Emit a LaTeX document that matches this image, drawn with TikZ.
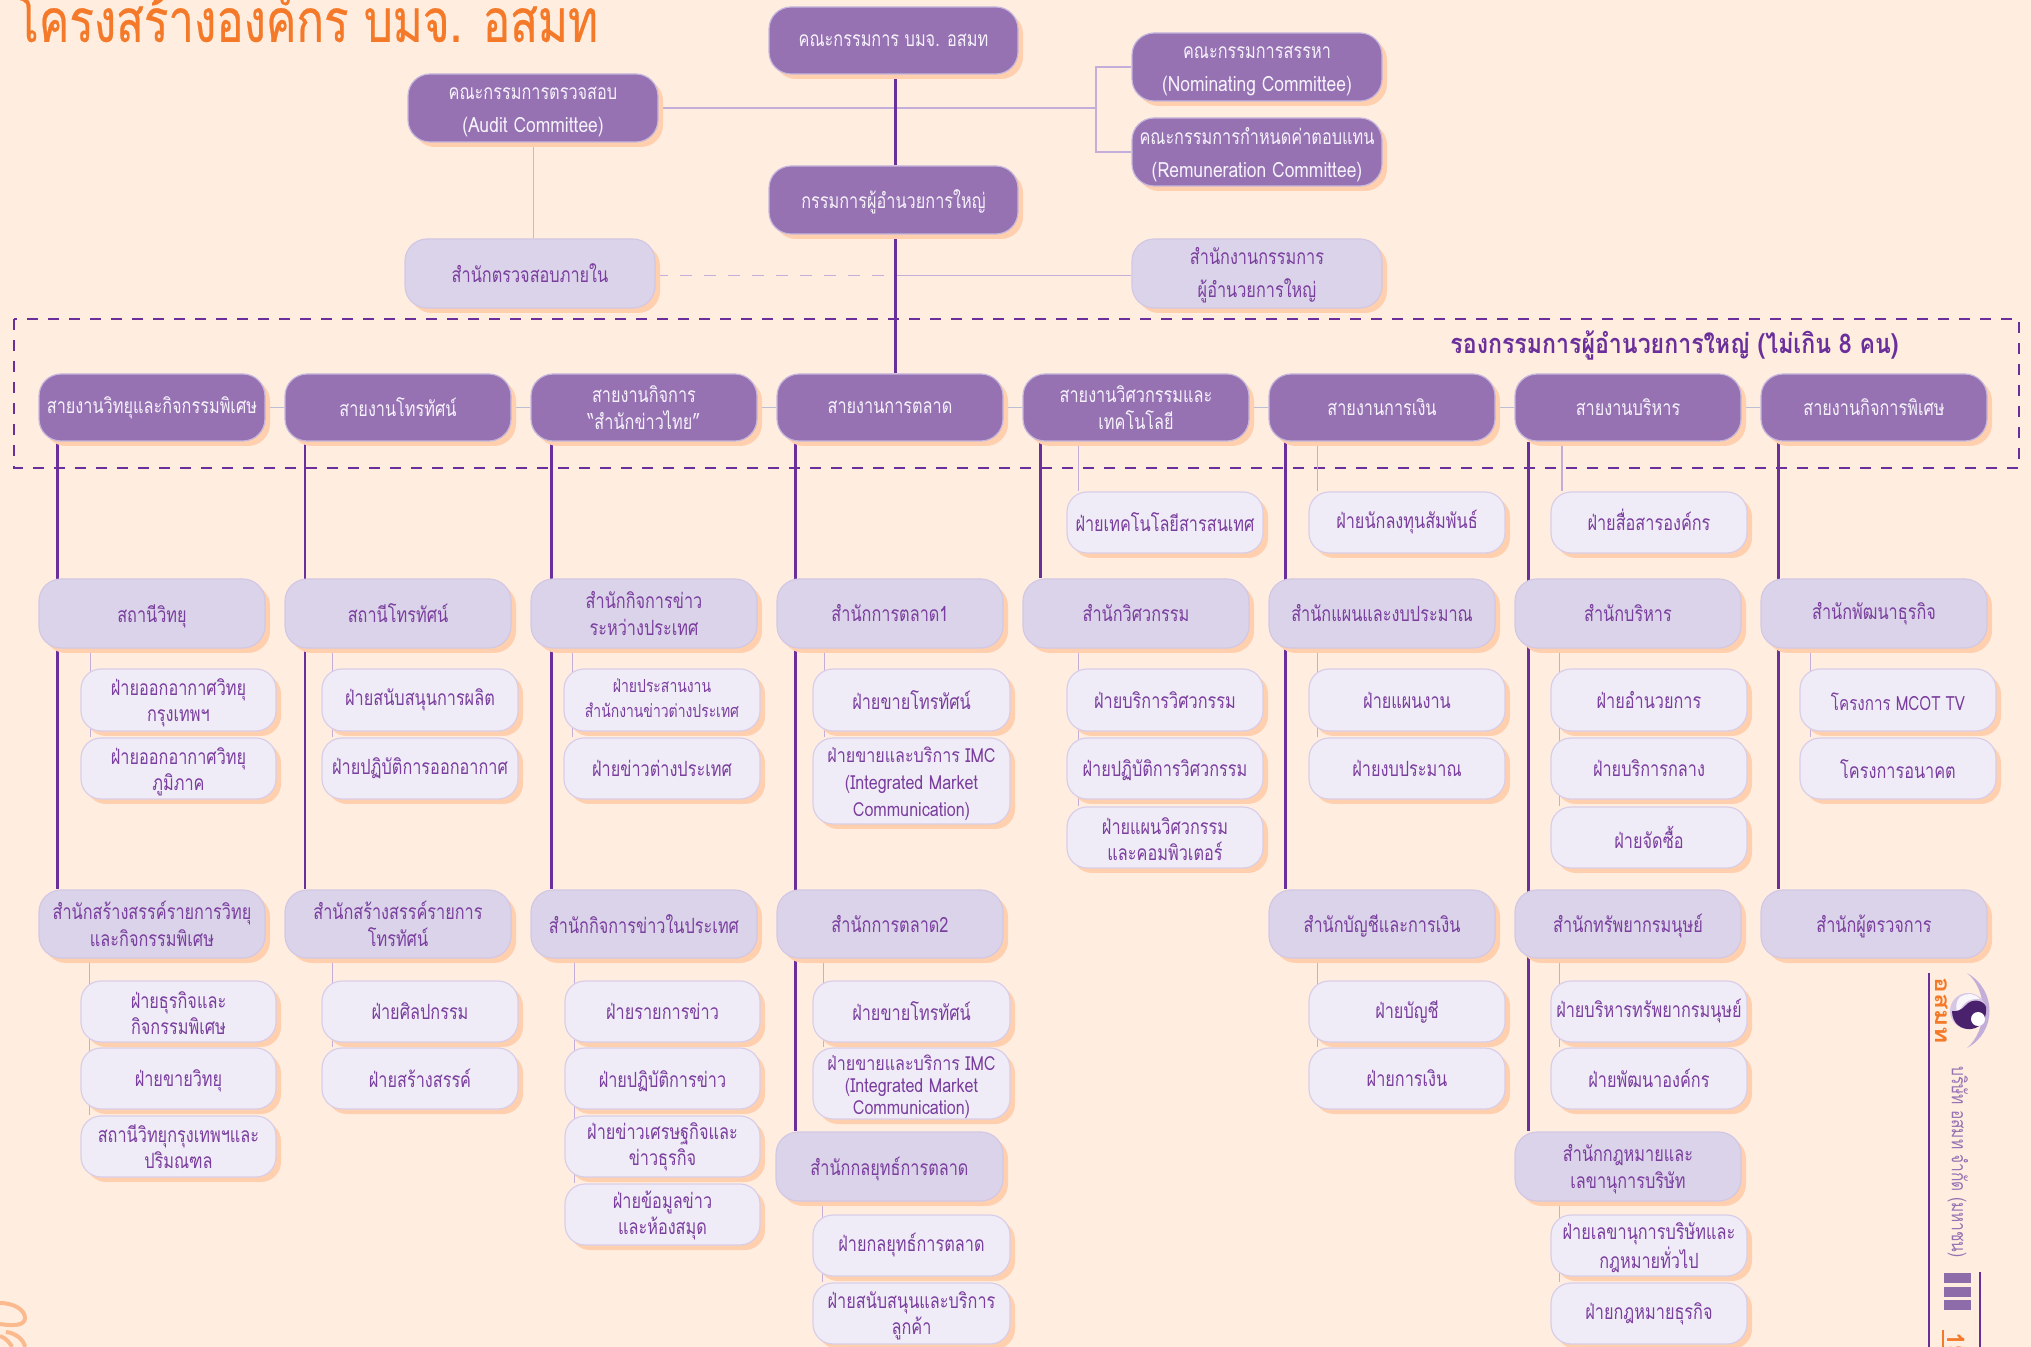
\documentclass[tikz,border=0pt]{standalone}
\usepackage{fontspec}
\usetikzlibrary{calc,shadows,backgrounds}
\newfontfamily\thaifont[Script=Thai,FakeStretch=0.775]{Loma}
\newfontfamily\thailat[Script=Thai,FakeStretch=0.83]{Loma}
\newfontfamily\thaititle[Script=Thai,FakeStretch=0.76,FakeBold=0.4]{Loma}
\newfontfamily\thailabel[Script=Thai,FakeStretch=0.85]{Loma}
\newfontfamily\thaiwide[Script=Thai,FakeStretch=1.25]{Loma}
\newfontfamily\thaiplain[Script=Thai]{Loma}
\definecolor{bgc}{HTML}{FFEEE0}
\definecolor{darkf}{HTML}{9672B3}
\definecolor{darkb}{HTML}{C5B6DC}
\definecolor{lightf}{HTML}{DBD3E9}
\definecolor{lightb}{HTML}{D2C8E4}
\definecolor{itemf}{HTML}{F0ECF7}
\definecolor{itemb}{HTML}{D9CEE8}
\definecolor{shad}{HTML}{FFCFAE}
\definecolor{spinec}{HTML}{6A2F9A}
\definecolor{thinc}{HTML}{C3AEDA}
\definecolor{grayc}{HTML}{BBBFD6}
\definecolor{txtp}{HTML}{7A3E9E}
\definecolor{txtw}{HTML}{F6F2FB}
\definecolor{orangec}{HTML}{F47A2A}
\tikzset{
  basebox/.style={rectangle,rounded corners=11pt,inner sep=0pt,line width=0.6pt,
    general shadow={fill=shad,shadow xshift=2.5pt,shadow yshift=-2.5pt}},
  basetext/.style={inner sep=0pt,align=center},
  darkbox/.style={basebox,fill=darkf,draw=darkb},
  lightbox/.style={basebox,fill=lightf,draw=lightb},
  itembox/.style={basebox,rounded corners=10pt,fill=itemf,draw=itemb},
  darkboxtext/.style={basetext,text=txtw,font=\thaifont\fontsize{10.5}{13.5}\selectfont},
  lightboxtext/.style={basetext,text=txtp,font=\thaifont\fontsize{10.5}{13.5}\selectfont},
  itemboxtext/.style={basetext,text=txtp,font=\thaifont\fontsize{10.5}{13}\selectfont},
  spineline/.style={draw=spinec,line width=1.1pt},
  thinline/.style={draw=thinc,line width=0.6pt},
  midline/.style={draw=thinc,line width=0.8pt},
  palegray/.style={draw=grayc,line width=0.8pt},
  dashlink/.style={draw=thinc,line width=0.8pt,dash pattern=on 6pt off 6pt},
  roofbox/.style={draw=spinec,line width=0.6pt,dash pattern=on 5.5pt off 5pt},
}
% \bxx[text opts]{name}{style}{x1}{y1}{x2}{y2}{text}
\newcommand\bxx[8][]{%
  \pgfmathsetmacro\cxx{(#4+#6)/2}\pgfmathsetmacro\cyy{(#5+#7)/2}%
  \pgfmathsetmacro\wdd{(#6-#4)*0.5}\pgfmathsetmacro\htt{(#7-#5)*0.5}%
  \node[#3,minimum width=\wdd pt,minimum height=\htt pt] (#2) at (\cxx,\cyy) {};%
  \node[#3text,#1] (#2-label) at (#2.center) {#8};%
}
% vertical connector: \vln{style}{from}{to}{offset from left of from}
\newcommand\vln[4]{\draw[#1] ($(#2.south west)+(#4,0)$) coordinate (tmpv) -- (tmpv |- #3.north);}
\newcommand\hln[2]{\draw[palegray] (#1.east) -- (#2.west);}
\begin{document}
\begin{tikzpicture}[x=0.5pt,y=-0.5pt]
\useasboundingbox (0,0) rectangle (2031,1347);
% top
\node[anchor=west,text=orangec,font=\thaititle\fontsize{30}{30}\selectfont,inner sep=0pt] (title) at (14,15) {โครงสร้างองค์กร บมจ. อสมท};
\bxx{board}{darkbox}{769}{7}{1018}{74}{คณะกรรมการ บมจ. อสมท}
\bxx[yshift=-1pt]{md}{darkbox}{769}{166}{1018}{234}{กรรมการผู้อำนวยการใหญ่}
\bxx[yshift=-2pt]{nom}{darkbox}{1132}{33}{1382}{101}{คณะกรรมการสรรหา\\[3pt]{\thailat (Nominating Committee)}}
\bxx[yshift=-1.5pt]{rem}{darkbox}{1132}{118}{1382}{186}{คณะกรรมการกำหนดค่าตอบแทน\\[3pt]{\thailat (Remuneration Committee)}}
\bxx[yshift=-2pt]{audit}{darkbox}{408}{74}{658}{142}{คณะกรรมการตรวจสอบ\\[3pt]{\thailat (Audit Committee)}}
\bxx{inaudit}{lightbox}{405}{239}{655}{308}{สำนักตรวจสอบภายใน}
\bxx[yshift=-1pt]{mdoffice}{lightbox}{1132}{239}{1382}{308}{สำนักงานกรรมการ\\[3pt]ผู้อำนวยการใหญ่}
\coordinate (roofnw) at (14,319);
\coordinate (roofse) at (2019,468);
\node[anchor=east,text=spinec,font=\thailabel\bfseries\fontsize{13.6}{15}\selectfont,inner sep=0pt] (rooflabel) at (1899,345) {รองกรรมการผู้อำนวยการใหญ่ (ไม่เกิน 8 คน)};
% level 1
\bxx{d1}{darkbox}{39}{374}{265}{441}{สายงานวิทยุและกิจกรรมพิเศษ}
\bxx{d2}{darkbox}{285}{374}{511}{441}{สายงานโทรทัศน์}
\bxx{d3}{darkbox}{531}{374}{757}{441}{สายงานกิจการ\\“สำนักข่าวไทย”}
\bxx{d4}{darkbox}{777}{374}{1003}{441}{สายงานการตลาด}
\bxx{d5}{darkbox}{1023}{374}{1249}{441}{สายงานวิศวกรรมและ\\เทคโนโลยี}
\bxx{d6}{darkbox}{1269}{374}{1495}{441}{สายงานการเงิน}
\bxx{d7}{darkbox}{1515}{374}{1741}{441}{สายงานบริหาร}
\bxx{d8}{darkbox}{1761}{374}{1987}{441}{สายงานกิจการพิเศษ}
% row under level 1
\bxx{tp5}{itembox}{1067}{492}{1263}{553}{ฝ่ายเทคโนโลยีสารสนเทศ}
\bxx{tp6}{itembox}{1309}{492}{1505}{553}{ฝ่ายนักลงทุนสัมพันธ์}
\bxx[yshift=1.5pt]{tp7}{itembox}{1551}{492}{1747}{553}{ฝ่ายสื่อสารองค์กร}
% level 2a
\bxx[yshift=-1.5pt]{s1}{lightbox}{39}{579}{265}{648}{สถานีวิทยุ}
\bxx{s2}{lightbox}{285}{579}{511}{648}{สถานีโทรทัศน์}
\bxx{s3}{lightbox}{531}{579}{757}{648}{สำนักกิจการข่าว\\ระหว่างประเทศ}
\bxx{s4}{lightbox}{777}{579}{1003}{648}{สำนักการตลาด1}
\bxx{s5}{lightbox}{1023}{579}{1249}{648}{สำนักวิศวกรรม}
\bxx{s6}{lightbox}{1269}{579}{1495}{648}{สำนักแผนและงบประมาณ}
\bxx{s7}{lightbox}{1515}{579}{1741}{648}{สำนักบริหาร}
\bxx{s8}{lightbox}{1761}{579}{1987}{648}{สำนักพัฒนาธุรกิจ}
% rows a b c
\bxx[yshift=-1.5pt]{a1}{itembox}{81}{669}{276}{731}{ฝ่ายออกอากาศวิทยุ\\กรุงเทพฯ}
\bxx[yshift=-1.5pt]{b1}{itembox}{81}{738}{276}{799}{ฝ่ายออกอากาศวิทยุ\\ภูมิภาค}
\bxx{a2}{itembox}{322}{669}{518}{731}{ฝ่ายสนับสนุนการผลิต}
\bxx{b2}{itembox}{322}{738}{518}{799}{ฝ่ายปฏิบัติการออกอากาศ}
\bxx[font=\thaifont\fontsize{9}{12.5}\selectfont,yshift=1pt]{a3}{itembox}{564}{669}{760}{731}{ฝ่ายประสานงาน\\สำนักงานข่าวต่างประเทศ}
\bxx{b3}{itembox}{564}{738}{760}{799}{ฝ่ายข่าวต่างประเทศ}
\bxx{a4}{itembox}{813}{669}{1010}{731}{ฝ่ายขายโทรทัศน์}
\bxx[font=\thailat\fontsize{9.7}{13.5}\selectfont,yshift=-1.5pt]{b4}{itembox}{813}{738}{1010}{824}{ฝ่ายขายและบริการ IMC\\(Integrated Market\\Communication)}
\bxx{a5}{itembox}{1067}{669}{1263}{731}{ฝ่ายบริการวิศวกรรม}
\bxx[yshift=-1pt]{b5}{itembox}{1067}{738}{1263}{799}{ฝ่ายปฏิบัติการวิศวกรรม}
\bxx[yshift=-0.7pt]{c5}{itembox}{1067}{807}{1263}{868}{ฝ่ายแผนวิศวกรรม\\และคอมพิวเตอร์}
\bxx{a6}{itembox}{1309}{669}{1505}{731}{ฝ่ายแผนงาน}
\bxx{b6}{itembox}{1309}{738}{1505}{799}{ฝ่ายงบประมาณ}
\bxx{a7}{itembox}{1551}{669}{1747}{731}{ฝ่ายอำนวยการ}
\bxx{b7}{itembox}{1551}{738}{1747}{799}{ฝ่ายบริการกลาง}
\bxx{c7}{itembox}{1551}{807}{1747}{868}{ฝ่ายจัดซื้อ}
\bxx[font=\thaifont\fontsize{9.8}{13}\selectfont,yshift=-1pt]{a8}{itembox}{1800}{669}{1996}{731}{โครงการ MCOT TV}
\bxx[yshift=-0.5pt]{b8}{itembox}{1800}{738}{1996}{799}{โครงการอนาคต}
% level 2b
\bxx{t1}{lightbox}{39}{890}{265}{958}{สำนักสร้างสรรค์รายการวิทยุ\\และกิจกรรมพิเศษ}
\bxx{t2}{lightbox}{285}{890}{511}{958}{สำนักสร้างสรรค์รายการ\\โทรทัศน์}
\bxx{t3}{lightbox}{531}{890}{757}{958}{สำนักกิจการข่าวในประเทศ}
\bxx{t4}{lightbox}{777}{890}{1003}{958}{สำนักการตลาด2}
\bxx[yshift=-1pt]{t6}{lightbox}{1269}{890}{1495}{958}{สำนักบัญชีและการเงิน}
\bxx[yshift=-1pt]{t7}{lightbox}{1515}{890}{1741}{958}{สำนักทรัพยากรมนุษย์}
\bxx[yshift=-1pt]{t8}{lightbox}{1761}{890}{1987}{958}{สำนักผู้ตรวจการ}
% rows d e f g
\bxx[yshift=-1pt]{e1a}{itembox}{81}{981}{276}{1042}{ฝ่ายธุรกิจและ\\กิจกรรมพิเศษ}
\bxx[yshift=-1pt]{e1b}{itembox}{81}{1048}{276}{1109}{ฝ่ายขายวิทยุ}
\bxx{e1c}{itembox}{81}{1116}{276}{1177}{สถานีวิทยุกรุงเทพฯและ\\ปริมณฑล}
\bxx{e2a}{itembox}{322}{981}{518}{1042}{ฝ่ายศิลปกรรม}
\bxx{e2b}{itembox}{322}{1048}{518}{1109}{ฝ่ายสร้างสรรค์}
\bxx{e3a}{itembox}{565}{981}{760}{1042}{ฝ่ายรายการข่าว}
\bxx[yshift=-1.5pt]{e3b}{itembox}{565}{1048}{760}{1109}{ฝ่ายปฏิบัติการข่าว}
\bxx{e3c}{itembox}{565}{1116}{760}{1177}{ฝ่ายข่าวเศรษฐกิจและ\\ข่าวธุรกิจ}
\bxx[yshift=-0.5pt]{e3d}{itembox}{565}{1184}{760}{1245}{ฝ่ายข้อมูลข่าว\\และห้องสมุด}
\bxx{e4a}{itembox}{813}{981}{1010}{1042}{ฝ่ายขายโทรทัศน์}
\bxx[font=\thailat\fontsize{9.7}{11}\selectfont,yshift=-1.5pt]{e4b}{itembox}{813}{1048}{1010}{1119}{ฝ่ายขายและบริการ IMC\\(Integrated Market\\Communication)}
\bxx{e6a}{itembox}{1309}{981}{1505}{1042}{ฝ่ายบัญชี}
\bxx{e6b}{itembox}{1309}{1048}{1505}{1109}{ฝ่ายการเงิน}
\bxx{e7a}{itembox}{1551}{981}{1747}{1042}{ฝ่ายบริหารทรัพยากรมนุษย์}
\bxx{e7b}{itembox}{1551}{1048}{1747}{1109}{ฝ่ายพัฒนาองค์กร}
% level 3
\bxx[yshift=-1.5pt]{u4}{lightbox}{776}{1132}{1003}{1201}{สำนักกลยุทธ์การตลาด}
\bxx[yshift=-1.5pt]{u7}{lightbox}{1515}{1132}{1741}{1201}{สำนักกฎหมายและ\\เลขานุการบริษัท}
\bxx{f4a}{itembox}{813}{1215}{1010}{1276}{ฝ่ายกลยุทธ์การตลาด}
\bxx[yshift=-1pt]{f4b}{itembox}{813}{1283}{1010}{1344}{ฝ่ายสนับสนุนและบริการ\\ลูกค้า}
\bxx[yshift=-1pt]{f7a}{itembox}{1551}{1215}{1747}{1276}{ฝ่ายเลขานุการบริษัทและ\\กฎหมายทั่วไป}
\bxx{f7b}{itembox}{1551}{1283}{1747}{1344}{ฝ่ายกฎหมายธุรกิจ}
% side brand
\draw[spinec,line width=0.7pt] (1929,973) -- (1929,1347);
\draw[spinec,line width=0.7pt] (1980,1272) -- (1980,1347);
\node[rotate=-90,text=orangec,font=\thaiwide\bfseries\fontsize{10.5}{12}\selectfont,inner sep=0pt] (brandsym) at (1942,1011) {อสมท};
\node[rotate=-90,text=darkf,font=\thaifont\fontsize{10}{12}\selectfont,inner sep=0pt] (brandname) at (1958,1162) {บริษัท อสมท จำกัด (มหาชน)};
\fill[fill=darkf!95!black] (1944,1273) rectangle (1971,1283);
\fill[fill=darkf!95!black] (1944,1287) rectangle (1971,1297);
\fill[fill=darkf!95!black] (1944,1300) rectangle (1971,1310);
\node[rotate=-90,text=orangec,font=\thaiplain\bfseries\fontsize{12}{12}\selectfont,anchor=west,inner sep=0pt] (pageno) at (1956,1332) {19};
\draw[orangec,line width=0.7pt] (1943,1330) -- (1943,1347);
% logo
\fill[fill=thinc] (1967,973) .. controls (1997,990) and (1997,1032) .. (1967,1048) .. controls (1988,1030) and (1988,990) .. (1967,973);
\fill[fill=thinc!70!white] (1968,1011) circle[radius=18];
\fill[fill=white!90!thinc] (1960,997) .. controls (1968,992) and (1976,994) .. (1980,999) .. controls (1968,998) and (1962,1004) .. (1958,1014) .. controls (1955,1008) and (1956,1001) .. (1960,997);
\fill[fill=spinec!70!black] (1952,1011) .. controls (1952,1024) and (1962,1030) .. (1971,1029) .. controls (1982,1028) and (1987,1018) .. (1986,1007) .. controls (1984,1000) and (1972,998) .. (1966,1005) .. controls (1962,1010) and (1956,1012) .. (1952,1011);
\fill[fill=white] (1978,1019) circle[radius=7];
% ornament
\draw[draw=orangec!45!bgc,line width=2pt] (0,1303) .. controls (14,1303) and (25,1310) .. (25,1318) .. controls (25,1326) and (12,1326) .. (0,1324);
\draw[draw=orangec!45!bgc,line width=2pt] (6,1332) .. controls (16,1333) and (24,1340) .. (25,1347);
\draw[draw=orangec!45!bgc,line width=2pt] (0,1336) .. controls (6,1338) and (10,1343) .. (12,1347);
% connectors
\begin{pgfonlayer}{background}
\fill[bgc] (0,0) rectangle (2031,1347);
\draw[roofbox] (roofnw) rectangle (roofse);
\coordinate (branch) at (1096,0);
\draw[midline] (audit.east) -- (audit.east -| branch);
\draw[midline] (nom.west) -- (nom.west -| branch) -- (rem.west -| branch) -- (rem.west);
\vln{palegray}{audit}{inaudit}{126}
\coordinate (trunk) at ($(md.south west)+(127,0)$);
\draw[dashlink] ($(inaudit.east)+(0,2)$) coordinate (dl) -- (dl -| trunk);
\draw[midline] ($(mdoffice.west)+(0,2)$) coordinate (ol) -- (ol -| trunk);
\vln{spineline}{board}{md}{127}
\vln{spineline}{md}{d4}{127}
\hln{d1}{d2}\hln{d2}{d3}\hln{d3}{d4}\hln{d4}{d5}\hln{d5}{d6}\hln{d6}{d7}\hln{d7}{d8}
\vln{spineline}{d1}{t1}{19}
\vln{spineline}{d2}{t2}{20.5}
\vln{spineline}{d3}{t3}{21}
\vln{spineline}{d4}{u4}{19}
\vln{spineline}{d5}{s5}{18}
\vln{spineline}{d6}{t6}{17}
\vln{spineline}{d7}{u7}{14}
\vln{spineline}{d8}{t8}{18}
\vln{thinline}{d5}{tp5}{56}
\vln{thinline}{d6}{tp6}{49}
\vln{thinline}{d7}{tp7}{47.5}
\vln{thinline}{s1}{b1}{52}
\vln{thinline}{s2}{b2}{48}
\vln{thinline}{s3}{b3}{42}
\vln{thinline}{s4}{b4}{48}
\vln{thinline}{s5}{c5}{56}
\vln{thinline}{s6}{b6}{49}
\vln{thinline}{s7}{c7}{45}
\vln{thinline}{s8}{b8}{50}
\vln{thinline}{t1}{e1c}{51}
\vln{thinline}{t2}{e2b}{48}
\vln{thinline}{t3}{e3d}{44}
\vln{thinline}{t4}{e4b}{47}
\vln{thinline}{t6}{e6b}{49}
\vln{thinline}{t7}{e7b}{45}
\vln{thinline}{u4}{f4b}{47}
\vln{thinline}{u7}{f7b}{45}
\end{pgfonlayer}
\end{tikzpicture}
\end{document}
